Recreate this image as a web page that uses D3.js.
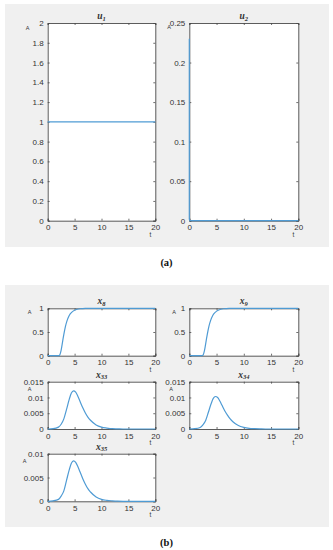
<!DOCTYPE html>
<html lang="en">
<head>
<meta charset="utf-8">
<title>Subplots</title>
<script src="https://cdn.jsdelivr.net/npm/d3@7"></script>
<style>
  body { margin: 0; background: #fff; }
  svg text { font-family: "Liberation Sans", Arial, sans-serif; fill: #333; }
  .ttl { font-family: "Liberation Serif", serif; font-style: italic; font-weight: bold; }
  .cap { font-family: "Liberation Serif", serif; font-weight: bold; fill: #111; }
</style>
</head>
<body>
<script>

// --- data ---
var u1T = [0, 20];
var u1Y = [1, 1];

var u2T = [0, 0, 0.1, 20];
var u2Y = [0.23, 0.002, 0, 0];

var x8T = [0, 2.0, 2.2, 2.5, 2.8, 3.0, 3.3, 3.6, 4.0, 4.5, 5.0, 5.5, 6.0, 6.5, 7.0, 7.5, 8.0, 20];
var x8Y = [0, 0, 0.01, 0.12, 0.32, 0.45, 0.62, 0.74, 0.85, 0.92, 0.96, 0.98, 0.99, 0.995, 0.998, 1, 1, 1];

var x9T = [0, 2.3, 2.5, 2.8, 3.1, 3.3, 3.6, 3.9, 4.3, 4.8, 5.3, 5.8, 6.3, 6.8, 7.3, 7.8, 8.3, 20];
var x9Y = [0, 0, 0.01, 0.12, 0.32, 0.45, 0.62, 0.74, 0.85, 0.92, 0.96, 0.98, 0.99, 0.995, 0.998, 1, 1, 1];

var peakT = [0, 1, 2, 2.5, 3, 3.5, 4, 4.4, 4.8, 5.2, 5.6, 6, 6.5, 7, 7.5, 8, 9, 10, 11, 12, 13, 14, 20];
var x33Y = [0, 0.0001, 0.0006, 0.0015, 0.0032, 0.0062, 0.0094, 0.0114, 0.0121, 0.0117, 0.0104, 0.0088, 0.0068, 0.0051, 0.0037, 0.0027, 0.0013, 0.0006, 0.0003, 0.0001, 0.00005, 0, 0];
var x34Y = [0, 0.0001, 0.0005, 0.0013, 0.0027, 0.0053, 0.008, 0.0097, 0.0103, 0.01, 0.0089, 0.0075, 0.0058, 0.0044, 0.0032, 0.0023, 0.0011, 0.0005, 0.0002, 0.0001, 0.00004, 0, 0];
var x35Y = [0, 0.0001, 0.0004, 0.0011, 0.0022, 0.0044, 0.0066, 0.008, 0.0085, 0.0082, 0.0073, 0.0062, 0.0048, 0.0036, 0.0026, 0.0019, 0.0009, 0.0004, 0.0002, 0.0001, 0.00003, 0, 0];

var xTicks = [0, 5, 10, 15, 20];
var u1Ticks = [0, 0.2, 0.4, 0.6, 0.8, 1, 1.2, 1.4, 1.6, 1.8, 2];
var u2Ticks = [0, 0.05, 0.1, 0.15, 0.2, 0.25];
var xsTicks = [0, 0.5, 1];
var peakTicks = [0, 0.005, 0.01, 0.015];
var x35Ticks = [0, 0.005, 0.01];

// --- canvas ---
var w = 333, h = 550;
var svg = d3.select("body").append("svg")
  .attr("width", w)
  .attr("height", h);

// gray figure backgrounds
svg.append("rect").attr("x", 5).attr("y", 4).attr("width", 324).attr("height", 243).attr("fill", "#f0f0f0");
svg.append("rect").attr("x", 5).attr("y", 285).attr("width", 324).attr("height", 242).attr("fill", "#f0f0f0");

svg.append("text").attr("class", "cap").attr("x", 166.5).attr("y", 266)
  .attr("text-anchor", "middle").attr("font-size", 10.5).text("(a)");
svg.append("text").attr("class", "cap").attr("x", 166.5).attr("y", 546)
  .attr("text-anchor", "middle").attr("font-size", 10.5).text("(b)");

function fmt(v) {
  return String(+v.toFixed(4));
}

function subplot(o) {
  var g = svg.append("g");
  var x = d3.scaleLinear().domain([0, 20]).range([o.x0, o.x1]);
  var y = d3.scaleLinear().domain([0, o.ymax]).range([o.y1, o.y0]);

  g.append("rect")
    .attr("x", o.x0).attr("y", o.y0)
    .attr("width", o.x1 - o.x0).attr("height", o.y1 - o.y0)
    .attr("fill", "#fff");

  // axes, ticks pointing inward, box on
  var ax = g.append("g").attr("transform", "translate(0," + o.y1 + ")")
    .call(d3.axisBottom(x).tickValues(xTicks).tickSize(-2).tickPadding(4).tickFormat(fmt));
  var ay = g.append("g").attr("transform", "translate(" + o.x0 + ",0)")
    .call(d3.axisLeft(y).tickValues(o.ticks).tickSize(-2).tickPadding(4).tickFormat(fmt));
  var at = g.append("g").attr("transform", "translate(0," + o.y0 + ")")
    .call(d3.axisTop(x).tickValues(xTicks).tickSize(-2).tickFormat(""));
  var ar = g.append("g").attr("transform", "translate(" + o.x1 + ",0)")
    .call(d3.axisRight(y).tickValues(o.ticks).tickSize(-2).tickFormat(""));

  [ax, ay, at, ar].forEach(function(a) {
    a.selectAll("path").attr("stroke", "#4a4a4a").attr("stroke-width", 0.9);
    a.selectAll("line").attr("stroke", "#4a4a4a").attr("stroke-width", 0.8);
    a.selectAll("text").attr("font-size", 8).attr("fill", "#3a3a3a")
      .attr("font-family", "Liberation Sans, Arial, sans-serif");
  });

  var line = d3.line()
    .x(function(d) { return x(d[0]); })
    .y(function(d) { return y(d[1]); })
    .curve(o.linear ? d3.curveLinear : d3.curveMonotoneX);

  var pts = o.t.map(function(t, i) { return [t, o.v[i]]; });
  g.append("path")
    .datum(pts)
    .attr("fill", "none")
    .attr("stroke", "#4f9bd4")
    .attr("stroke-width", 1.2)
    .attr("d", line);

  // title
  var tt = g.append("text").attr("class", "ttl")
    .attr("x", (o.x0 + o.x1) / 2).attr("y", o.y0 - 4)
    .attr("text-anchor", "middle").attr("font-size", 9.5);
  tt.append("tspan").text(o.name);
  tt.append("tspan").attr("font-size", 6.5).attr("dy", 1.5).text(o.sub);

  // "A" label and "t" label
  g.append("text").attr("x", o.x0 - o.ax).attr("y", o.y0 + o.ay)
    .attr("font-size", 5.5).attr("fill", "#444").text("A");
  g.append("text").attr("x", o.x1 - 5).attr("y", o.y1 + 16)
    .attr("text-anchor", "middle").attr("font-size", 6.5).attr("fill", "#444").text("t");
}

subplot({ name: "u", sub: "1", t: u1T, v: u1Y, ymax: 2, ticks: u1Ticks,
  x0: 47.7, x1: 155.3, y0: 23, y1: 220.7, linear: true, ax: 22, ay: 6.5 });
subplot({ name: "u", sub: "2", t: u2T, v: u2Y, ymax: 0.25, ticks: u2Ticks,
  x0: 189.3, x1: 298.3, y0: 23, y1: 220.7, linear: true, ax: 22, ay: 5.5 });

subplot({ name: "x", sub: "8", t: x8T, v: x8Y, ymax: 1, ticks: xsTicks,
  x0: 47.7, x1: 155.3, y0: 308.3, y1: 355.7, ax: 20, ay: 5.5 });
subplot({ name: "x", sub: "9", t: x9T, v: x9Y, ymax: 1, ticks: xsTicks,
  x0: 189.3, x1: 298.3, y0: 308.3, y1: 355.7, ax: 17, ay: 5.5 });

subplot({ name: "x", sub: "33", t: peakT, v: x33Y, ymax: 0.015, ticks: peakTicks,
  x0: 47.7, x1: 155.3, y0: 381.7, y1: 429, ax: 20, ay: 9.5 });
subplot({ name: "x", sub: "34", t: peakT, v: x34Y, ymax: 0.015, ticks: peakTicks,
  x0: 189.3, x1: 298.3, y0: 381.7, y1: 429, ax: 20, ay: 9.5 });

subplot({ name: "x", sub: "35", t: peakT, v: x35Y, ymax: 0.01, ticks: x35Ticks,
  x0: 47.7, x1: 155.3, y0: 453.7, y1: 501.3, ax: 25, ay: 9.5 });

</script>
</body>
</html>
